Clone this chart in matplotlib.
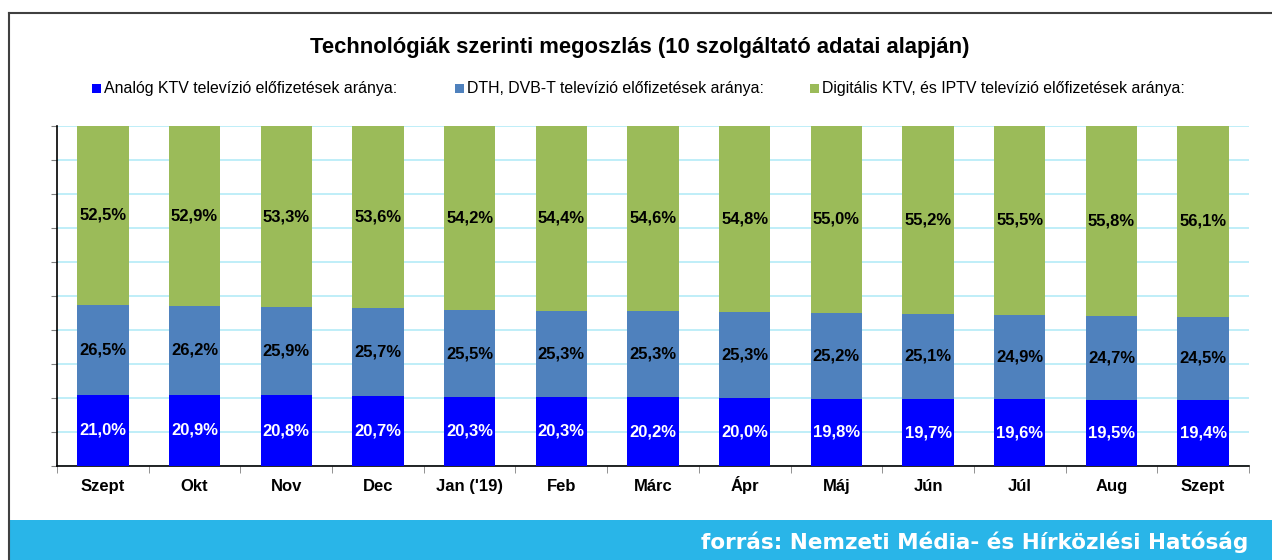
import matplotlib
matplotlib.use("Agg")
import matplotlib.pyplot as plt
from matplotlib.patches import Rectangle
from matplotlib.lines import Line2D
import numpy as np

plt.rcParams['font.family'] = ['Liberation Sans', 'DejaVu Sans']

categories = ["Szept", "Okt", "Nov", "Dec", "Jan ('19)", "Feb", "Márc", "Ápr",
              "Máj", "Jún", "Júl", "Aug", "Szept"]
analog = [21.0, 20.9, 20.8, 20.7, 20.3, 20.3, 20.2, 20.0, 19.8, 19.7, 19.6, 19.5, 19.4]
dth = [26.5, 26.2, 25.9, 25.7, 25.5, 25.3, 25.3, 25.3, 25.2, 25.1, 24.9, 24.7, 24.5]
digital = [52.5, 52.9, 53.3, 53.6, 54.2, 54.4, 54.6, 54.8, 55.0, 55.2, 55.5, 55.8, 56.1]
series_names = ["Analóg KTV televízió előfizetések aránya:",
                "DTH, DVB-T televízió előfizetések aránya:",
                "Digitális KTV, és IPTV televízió előfizetések aránya:"]
title = "Technológiák szerinti megoszlás (10 szolgáltató adatai alapján)"
source = "forrás: Nemzeti Média- és Hírközlési Hatóság"

colors = ["#0000FF", "#4F81BD", "#9BBB59"]
label_colors = ["white", "black", "black"]

W, H = 1272, 560
fig = plt.figure(figsize=(W / 100, H / 100), dpi=100)

# frame and footer band
fig.add_artist(Rectangle((8 / W, 0), 1 - 8 / W, 40 / H, transform=fig.transFigure,
                         facecolor="#29B5E8", edgecolor="none", zorder=0))
fig.add_artist(Line2D([8.5 / W, 8.5 / W], [0, 1 - 13 / H], transform=fig.transFigure,
                      color="#404040", lw=1.5))
fig.add_artist(Line2D([8.5 / W, 1], [1 - 13 / H, 1 - 13 / H], transform=fig.transFigure,
                      color="#404040", lw=1.5))
fig.text(1248 / W, 1 - 549 / H, source, ha="right", va="baseline", color="white",
         fontsize=15.5, fontweight="bold", family="DejaVu Sans")

ax = fig.add_axes([57 / W, 1 - 466 / H, (1249 - 57) / W, (466 - 126) / H])
x = np.arange(len(categories))
bw = 0.56
series = [analog, dth, digital]
bottom = np.zeros(len(categories))
for vals, c, lc, name in zip(series, colors, label_colors, series_names):
    v = np.array(vals)
    ax.bar(x, v, bw, bottom=bottom, color=c, label=name, zorder=3, edgecolor="none")
    for xi, b, vi in zip(x, bottom, v):
        ax.text(xi, b + vi / 2, f"{vi:.1f}%".replace(".", ","), ha="center",
                va="center", color=lc, fontsize=12, fontweight="bold", zorder=4)
    bottom = bottom + v

ax.set_xlim(-0.5, len(categories) - 0.5)
ax.set_ylim(0, 100)
ax.set_yticks(np.arange(0, 101, 10))
ax.set_yticklabels([])
ax.yaxis.grid(True, color="#B4EBF7", lw=1.2, zorder=0)
ax.tick_params(axis="y", length=4, color="#808080")
ax.set_xticks(x)
ax.set_xticklabels(categories, fontsize=12, fontweight="bold")
for lab in ax.get_xticklabels():
    lab.set_verticalalignment("baseline")
ax.tick_params(axis="x", length=0, pad=18)
ax.set_xticks(np.arange(-0.5, len(categories), 1), minor=True)
ax.tick_params(axis="x", which="minor", length=5, color="#808080")
for s in ["top", "right"]:
    ax.spines[s].set_visible(False)
for s in ["left", "bottom"]:
    ax.spines[s].set_color("black")
    ax.spines[s].set_linewidth(1.2)

fig.text(640 / W, 1 - 47 / H, title, ha="center", va="center", fontsize=15.8,
         fontweight="bold")

# legend
leg_x = [92, 455, 810]
for lx, c, name in zip(leg_x, colors, series_names):
    fig.add_artist(Rectangle((lx / W, 1 - 93 / H), 9 / W, 9 / H,
                             transform=fig.transFigure, facecolor=c, edgecolor="none"))
    fig.text((lx + 12) / W, 1 - 88 / H, name, ha="left", va="center", fontsize=11.4)

fig.savefig("out.png", dpi=100)
